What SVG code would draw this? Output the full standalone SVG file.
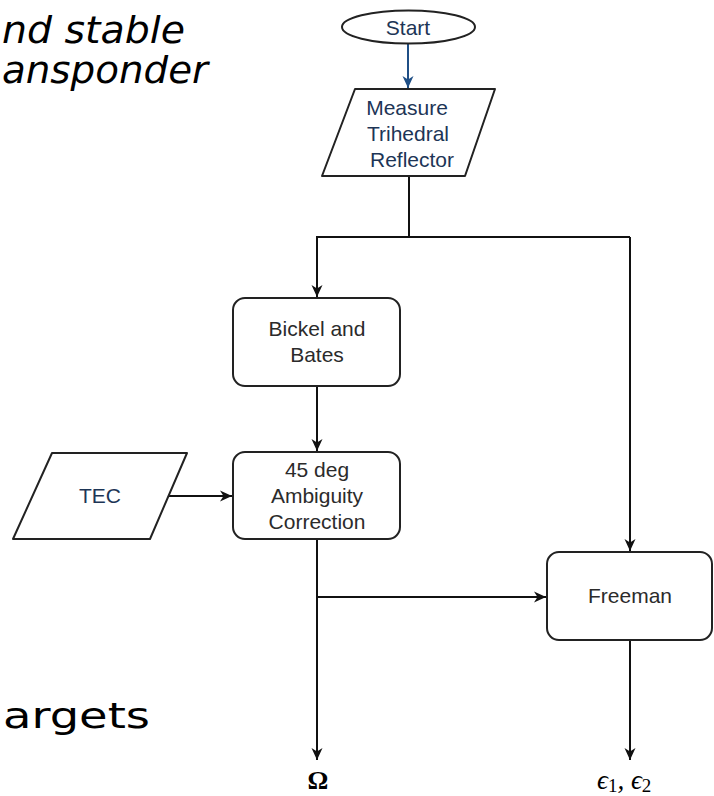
<svg xmlns="http://www.w3.org/2000/svg" width="714" height="796" viewBox="0 0 714 796">
<defs>
<marker id="ah" markerWidth="13" markerHeight="13" refX="12" refY="6.5" orient="auto" markerUnits="userSpaceOnUse">
<path d="M0,1 L12,6.5 L0,12 L3.5,6.5 z" fill="#111"/>
</marker>
<marker id="ahb" markerWidth="13" markerHeight="13" refX="12" refY="6.5" orient="auto" markerUnits="userSpaceOnUse">
<path d="M0,1 L12,6.5 L0,12 L3.5,6.5 z" fill="#1f4f86"/>
</marker>
</defs>
<style>
.bg{font-family:"DejaVu Sans",Verdana,sans-serif;fill:#000}
.shape{fill:#fff;stroke:#222;stroke-width:2;stroke-linejoin:round}
.t{font-family:"Liberation Sans",Arial,sans-serif;font-size:21px;text-anchor:middle;fill:#2b2b2b}
.tb{font-family:"Liberation Sans",Arial,sans-serif;font-size:21px;text-anchor:middle;fill:#1d3556}
.edge{fill:none;stroke:#111;stroke-width:2}
.math{font-family:"Liberation Serif","DejaVu Serif",serif;fill:#000}
</style>
<rect width="714" height="796" fill="#fff"/>
<g id="background-text">
<text class="bg" x="2" y="43" font-size="38" font-style="italic" textLength="183" lengthAdjust="spacingAndGlyphs">nd stable</text>
<text class="bg" x="2" y="83" font-size="38" font-style="italic" textLength="206" lengthAdjust="spacingAndGlyphs">ansponder</text>
<text class="bg" x="3" y="728" font-size="36" textLength="147" lengthAdjust="spacingAndGlyphs">argets</text>
</g>
<g id="connectors">
<line x1="408" y1="44" x2="408" y2="88" stroke="#1f4f86" stroke-width="2" marker-end="url(#ahb)"/>
<polyline class="edge" points="409,177 409,237"/>
<polyline class="edge" points="630,237 317,237 317,297" marker-end="url(#ah)"/>
<polyline class="edge" points="630,237 630,551" marker-end="url(#ah)"/>
<line class="edge" x1="317" y1="387" x2="317" y2="451" marker-end="url(#ah)"/>
<line class="edge" x1="169" y1="496" x2="232" y2="496" marker-end="url(#ah)"/>
<line class="edge" x1="317" y1="540" x2="317" y2="760" marker-end="url(#ah)"/>
<line class="edge" x1="317" y1="597" x2="546" y2="597" marker-end="url(#ah)"/>
<line class="edge" x1="630" y1="641" x2="630" y2="760" marker-end="url(#ah)"/>
</g>
<g id="start">
<ellipse class="shape" cx="408.5" cy="27" rx="66.5" ry="16.5"/>
<text class="tb" x="408" y="35" font-size="20">Start</text>
</g>
<g id="measure">
<path class="shape" d="M355,89 L495,89 L465,176 L322,176 Z"/>
<text class="tb" x="407" y="115">Measure</text>
<text class="tb" x="408" y="141">Trihedral</text>
<text class="tb" x="412" y="167">Reflector</text>
</g>
<g id="bickel">
<rect class="shape" x="233" y="298" width="167" height="88" rx="12"/>
<text class="t" x="317" y="336">Bickel and</text>
<text class="t" x="317" y="362">Bates</text>
</g>
<g id="tec">
<path class="shape" d="M52,453 L187,453 L150,539 L13,539 Z"/>
<text class="tb" x="100" y="503">TEC</text>
</g>
<g id="ambiguity">
<rect class="shape" x="233" y="452" width="167" height="87" rx="12"/>
<text class="t" x="317" y="477">45 deg</text>
<text class="t" x="317" y="503">Ambiguity</text>
<text class="t" x="317" y="529">Correction</text>
</g>
<g id="freeman">
<rect class="shape" x="547" y="552" width="165" height="88" rx="12"/>
<text class="t" x="630" y="603">Freeman</text>
</g>
<g id="omega">
<text class="math" x="318" y="789" font-size="26" font-weight="bold" text-anchor="middle">Ω</text>
</g>
<g id="epsilon">
<text class="math" x="597" y="789" font-size="27" font-style="italic">ϵ<tspan font-size="19" font-style="normal" dy="3">1</tspan><tspan dy="-3">,  ϵ</tspan><tspan font-size="19" font-style="normal" dy="3">2</tspan></text>
</g>
</svg>
